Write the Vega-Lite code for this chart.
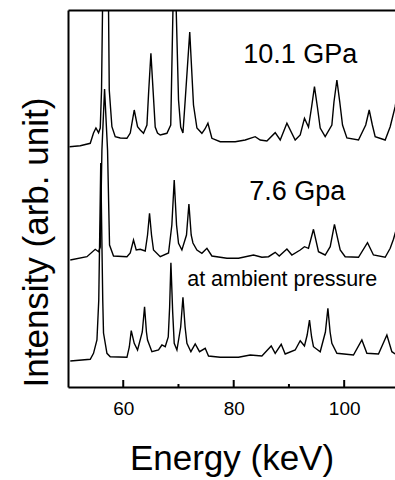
{
  "$schema": "https://vega.github.io/schema/vega-lite/v6.json",
  "width": 327,
  "height": 377,
  "autosize": {"type": "none"},
  "padding": {"left": 68, "top": 10, "right": 0, "bottom": 93},
  "config": {"view": {"stroke": null}, "font": "Liberation Sans"},
  "datasets": {
    "spectra": [
      {"s": "10.1 GPa", "e": 50.28, "v": 240.3},
      {"s": "10.1 GPa", "e": 52.22, "v": 241.3},
      {"s": "10.1 GPa", "e": 54.03, "v": 243.7},
      {"s": "10.1 GPa", "e": 54.62, "v": 254},
      {"s": "10.1 GPa", "e": 55.06, "v": 259},
      {"s": "10.1 GPa", "e": 55.53, "v": 254.3},
      {"s": "10.1 GPa", "e": 55.84, "v": 259},
      {"s": "10.1 GPa", "e": 56.07, "v": 297},
      {"s": "10.1 GPa", "e": 56.25, "v": 377},
      {"s": "10.1 GPa", "e": 56.8, "v": 520},
      {"s": "10.1 GPa", "e": 57.34, "v": 377},
      {"s": "10.1 GPa", "e": 57.47, "v": 297},
      {"s": "10.1 GPa", "e": 57.95, "v": 260.3},
      {"s": "10.1 GPa", "e": 58.55, "v": 250.3},
      {"s": "10.1 GPa", "e": 59.46, "v": 249},
      {"s": "10.1 GPa", "e": 60.67, "v": 248.7},
      {"s": "10.1 GPa", "e": 61.27, "v": 254},
      {"s": "10.1 GPa", "e": 61.99, "v": 277},
      {"s": "10.1 GPa", "e": 62.59, "v": 260.3},
      {"s": "10.1 GPa", "e": 63.08, "v": 257},
      {"s": "10.1 GPa", "e": 63.67, "v": 253.7},
      {"s": "10.1 GPa", "e": 64.29, "v": 262},
      {"s": "10.1 GPa", "e": 64.6, "v": 295},
      {"s": "10.1 GPa", "e": 65.01, "v": 333.7},
      {"s": "10.1 GPa", "e": 65.42, "v": 295},
      {"s": "10.1 GPa", "e": 65.79, "v": 260},
      {"s": "10.1 GPa", "e": 66.2, "v": 254},
      {"s": "10.1 GPa", "e": 66.7, "v": 252},
      {"s": "10.1 GPa", "e": 67.91, "v": 253.7},
      {"s": "10.1 GPa", "e": 68.6, "v": 262},
      {"s": "10.1 GPa", "e": 69.0, "v": 377},
      {"s": "10.1 GPa", "e": 69.32, "v": 440},
      {"s": "10.1 GPa", "e": 69.59, "v": 377},
      {"s": "10.1 GPa", "e": 70.01, "v": 287},
      {"s": "10.1 GPa", "e": 70.4, "v": 260},
      {"s": "10.1 GPa", "e": 70.81, "v": 254},
      {"s": "10.1 GPa", "e": 71.22, "v": 287},
      {"s": "10.1 GPa", "e": 72.04, "v": 355},
      {"s": "10.1 GPa", "e": 72.72, "v": 282},
      {"s": "10.1 GPa", "e": 73.34, "v": 259},
      {"s": "10.1 GPa", "e": 74.24, "v": 253.7},
      {"s": "10.1 GPa", "e": 74.8, "v": 258},
      {"s": "10.1 GPa", "e": 75.33, "v": 263.7},
      {"s": "10.1 GPa", "e": 76.05, "v": 248.7},
      {"s": "10.1 GPa", "e": 77.56, "v": 245.3},
      {"s": "10.1 GPa", "e": 78.46, "v": 245.3},
      {"s": "10.1 GPa", "e": 80.27, "v": 245.3},
      {"s": "10.1 GPa", "e": 82.08, "v": 247},
      {"s": "10.1 GPa", "e": 83.89, "v": 250.3},
      {"s": "10.1 GPa", "e": 84.8, "v": 247},
      {"s": "10.1 GPa", "e": 86.01, "v": 246},
      {"s": "10.1 GPa", "e": 87.51, "v": 254.3},
      {"s": "10.1 GPa", "e": 88.42, "v": 247},
      {"s": "10.1 GPa", "e": 89.63, "v": 263.7},
      {"s": "10.1 GPa", "e": 91.13, "v": 247},
      {"s": "10.1 GPa", "e": 92.04, "v": 252},
      {"s": "10.1 GPa", "e": 92.81, "v": 268.7},
      {"s": "10.1 GPa", "e": 93.54, "v": 260},
      {"s": "10.1 GPa", "e": 94.1, "v": 280},
      {"s": "10.1 GPa", "e": 94.62, "v": 300.3},
      {"s": "10.1 GPa", "e": 95.15, "v": 280},
      {"s": "10.1 GPa", "e": 95.66, "v": 259},
      {"s": "10.1 GPa", "e": 96.56, "v": 250.3},
      {"s": "10.1 GPa", "e": 97.77, "v": 262},
      {"s": "10.1 GPa", "e": 98.15, "v": 285},
      {"s": "10.1 GPa", "e": 98.68, "v": 307},
      {"s": "10.1 GPa", "e": 99.2, "v": 285},
      {"s": "10.1 GPa", "e": 99.7, "v": 262},
      {"s": "10.1 GPa", "e": 100.49, "v": 249},
      {"s": "10.1 GPa", "e": 102.59, "v": 247},
      {"s": "10.1 GPa", "e": 103.9, "v": 262},
      {"s": "10.1 GPa", "e": 104.53, "v": 277},
      {"s": "10.1 GPa", "e": 105.1, "v": 262},
      {"s": "10.1 GPa", "e": 105.61, "v": 250.3},
      {"s": "10.1 GPa", "e": 107.42, "v": 247},
      {"s": "10.1 GPa", "e": 108.33, "v": 260.3},
      {"s": "10.1 GPa", "e": 109.23, "v": 280.3},
      {"s": "10.1 GPa", "e": 109.8, "v": 300},

      {"s": "7.6 Gpa", "e": 50.41, "v": 127},
      {"s": "7.6 Gpa", "e": 53.43, "v": 130.3},
      {"s": "7.6 Gpa", "e": 54.93, "v": 137.7},
      {"s": "7.6 Gpa", "e": 55.53, "v": 135.3},
      {"s": "7.6 Gpa", "e": 55.84, "v": 140},
      {"s": "7.6 Gpa", "e": 56.14, "v": 237},
      {"s": "7.6 Gpa", "e": 56.62, "v": 298},
      {"s": "7.6 Gpa", "e": 57.16, "v": 237},
      {"s": "7.6 Gpa", "e": 57.52, "v": 142},
      {"s": "7.6 Gpa", "e": 58.24, "v": 131},
      {"s": "7.6 Gpa", "e": 60.67, "v": 130.3},
      {"s": "7.6 Gpa", "e": 61.27, "v": 134},
      {"s": "7.6 Gpa", "e": 61.86, "v": 147},
      {"s": "7.6 Gpa", "e": 62.35, "v": 137},
      {"s": "7.6 Gpa", "e": 63.08, "v": 137.7},
      {"s": "7.6 Gpa", "e": 63.98, "v": 136},
      {"s": "7.6 Gpa", "e": 64.4, "v": 152},
      {"s": "7.6 Gpa", "e": 64.76, "v": 173.7},
      {"s": "7.6 Gpa", "e": 65.12, "v": 152},
      {"s": "7.6 Gpa", "e": 65.48, "v": 137},
      {"s": "7.6 Gpa", "e": 66.7, "v": 130.3},
      {"s": "7.6 Gpa", "e": 68.2, "v": 134},
      {"s": "7.6 Gpa", "e": 68.8, "v": 162},
      {"s": "7.6 Gpa", "e": 69.23, "v": 207},
      {"s": "7.6 Gpa", "e": 69.65, "v": 162},
      {"s": "7.6 Gpa", "e": 70.01, "v": 143.7},
      {"s": "7.6 Gpa", "e": 70.62, "v": 137},
      {"s": "7.6 Gpa", "e": 71.45, "v": 152},
      {"s": "7.6 Gpa", "e": 71.89, "v": 183},
      {"s": "7.6 Gpa", "e": 72.3, "v": 152},
      {"s": "7.6 Gpa", "e": 72.62, "v": 144},
      {"s": "7.6 Gpa", "e": 73.34, "v": 137},
      {"s": "7.6 Gpa", "e": 74.24, "v": 133.7},
      {"s": "7.6 Gpa", "e": 75.15, "v": 138.7},
      {"s": "7.6 Gpa", "e": 76.05, "v": 131},
      {"s": "7.6 Gpa", "e": 78.77, "v": 128.7},
      {"s": "7.6 Gpa", "e": 80.87, "v": 128.7},
      {"s": "7.6 Gpa", "e": 83.58, "v": 132},
      {"s": "7.6 Gpa", "e": 85.1, "v": 129.7},
      {"s": "7.6 Gpa", "e": 86.3, "v": 130.3},
      {"s": "7.6 Gpa", "e": 87.51, "v": 134.7},
      {"s": "7.6 Gpa", "e": 88.24, "v": 131},
      {"s": "7.6 Gpa", "e": 89.63, "v": 138},
      {"s": "7.6 Gpa", "e": 90.53, "v": 132},
      {"s": "7.6 Gpa", "e": 92.04, "v": 137},
      {"s": "7.6 Gpa", "e": 92.81, "v": 140.3},
      {"s": "7.6 Gpa", "e": 93.54, "v": 138.7},
      {"s": "7.6 Gpa", "e": 94.44, "v": 157.7},
      {"s": "7.6 Gpa", "e": 95.35, "v": 135.3},
      {"s": "7.6 Gpa", "e": 96.56, "v": 132},
      {"s": "7.6 Gpa", "e": 97.47, "v": 140.3},
      {"s": "7.6 Gpa", "e": 98.24, "v": 162.7},
      {"s": "7.6 Gpa", "e": 99.28, "v": 137},
      {"s": "7.6 Gpa", "e": 100.18, "v": 130.3},
      {"s": "7.6 Gpa", "e": 102.59, "v": 129.7},
      {"s": "7.6 Gpa", "e": 104.22, "v": 144.3},
      {"s": "7.6 Gpa", "e": 105.3, "v": 132},
      {"s": "7.6 Gpa", "e": 107.42, "v": 129.7},
      {"s": "7.6 Gpa", "e": 108.33, "v": 138.7},
      {"s": "7.6 Gpa", "e": 108.92, "v": 147.7},
      {"s": "7.6 Gpa", "e": 109.4, "v": 157},

      {"s": "ambient", "e": 50.41, "v": 26},
      {"s": "ambient", "e": 54.03, "v": 27.7},
      {"s": "ambient", "e": 54.62, "v": 33.7},
      {"s": "ambient", "e": 55.24, "v": 47},
      {"s": "ambient", "e": 55.57, "v": 87},
      {"s": "ambient", "e": 55.93, "v": 224},
      {"s": "ambient", "e": 56.29, "v": 87},
      {"s": "ambient", "e": 56.43, "v": 54},
      {"s": "ambient", "e": 57.05, "v": 33.7},
      {"s": "ambient", "e": 57.65, "v": 30.3},
      {"s": "ambient", "e": 60.67, "v": 29.7},
      {"s": "ambient", "e": 61.1, "v": 40},
      {"s": "ambient", "e": 61.45, "v": 56.3},
      {"s": "ambient", "e": 61.99, "v": 43.7},
      {"s": "ambient", "e": 62.59, "v": 37},
      {"s": "ambient", "e": 63.45, "v": 55},
      {"s": "ambient", "e": 63.86, "v": 80.3},
      {"s": "ambient", "e": 64.2, "v": 55},
      {"s": "ambient", "e": 64.4, "v": 47},
      {"s": "ambient", "e": 65.19, "v": 35.3},
      {"s": "ambient", "e": 66.39, "v": 37},
      {"s": "ambient", "e": 67.0, "v": 42},
      {"s": "ambient", "e": 67.6, "v": 40.3},
      {"s": "ambient", "e": 68.15, "v": 50},
      {"s": "ambient", "e": 68.4, "v": 80},
      {"s": "ambient", "e": 68.63, "v": 124.3},
      {"s": "ambient", "e": 68.95, "v": 75},
      {"s": "ambient", "e": 69.23, "v": 43.7},
      {"s": "ambient", "e": 69.72, "v": 37},
      {"s": "ambient", "e": 70.4, "v": 60},
      {"s": "ambient", "e": 70.81, "v": 89.7},
      {"s": "ambient", "e": 71.2, "v": 60},
      {"s": "ambient", "e": 71.53, "v": 43.7},
      {"s": "ambient", "e": 72.25, "v": 35.3},
      {"s": "ambient", "e": 73.03, "v": 43},
      {"s": "ambient", "e": 73.81, "v": 35.3},
      {"s": "ambient", "e": 74.84, "v": 38.7},
      {"s": "ambient", "e": 75.44, "v": 31},
      {"s": "ambient", "e": 77.56, "v": 29.7},
      {"s": "ambient", "e": 80.87, "v": 29.7},
      {"s": "ambient", "e": 82.99, "v": 32},
      {"s": "ambient", "e": 85.1, "v": 31},
      {"s": "ambient", "e": 86.79, "v": 41},
      {"s": "ambient", "e": 87.51, "v": 33.7},
      {"s": "ambient", "e": 88.6, "v": 42.7},
      {"s": "ambient", "e": 89.32, "v": 33},
      {"s": "ambient", "e": 91.13, "v": 37},
      {"s": "ambient", "e": 92.04, "v": 46.3},
      {"s": "ambient", "e": 92.81, "v": 41},
      {"s": "ambient", "e": 93.3, "v": 52},
      {"s": "ambient", "e": 93.72, "v": 67},
      {"s": "ambient", "e": 94.1, "v": 50},
      {"s": "ambient", "e": 94.44, "v": 40.3},
      {"s": "ambient", "e": 95.66, "v": 35.3},
      {"s": "ambient", "e": 96.6, "v": 55},
      {"s": "ambient", "e": 97.05, "v": 78.7},
      {"s": "ambient", "e": 97.45, "v": 55},
      {"s": "ambient", "e": 97.77, "v": 43.7},
      {"s": "ambient", "e": 98.68, "v": 33.7},
      {"s": "ambient", "e": 101.68, "v": 32},
      {"s": "ambient", "e": 103.2, "v": 47},
      {"s": "ambient", "e": 104.11, "v": 33.7},
      {"s": "ambient", "e": 106.21, "v": 33},
      {"s": "ambient", "e": 107.73, "v": 52},
      {"s": "ambient", "e": 108.63, "v": 35.3},
      {"s": "ambient", "e": 109.23, "v": 33}
    ],
    "labels": [
      {"text": "10.1 GPa", "e": 81.72, "v": 324},
      {"text": "7.6 Gpa", "e": 82.8, "v": 187},
      {"text": "at ambient pressure", "e": 71.58, "v": 101}
    ],
    "ticks": [
      {"e": 60, "kind": "major"},
      {"e": 70, "kind": "minor"},
      {"e": 80, "kind": "major"},
      {"e": 90, "kind": "minor"},
      {"e": 100, "kind": "major"}
    ]
  },
  "layer": [
    {
      "data": {"name": "spectra"},
      "mark": {"type": "line", "color": "black", "strokeWidth": 1.4, "clip": true},
      "encoding": {
        "x": {
          "field": "e", "type": "quantitative",
          "scale": {"domain": [50, 109.2], "nice": false, "zero": false},
          "axis": {
            "orient": "bottom",
            "values": [60, 80, 100],
            "ticks": false,
            "labelFontSize": 19,
            "labelColor": "black",
            "labelPadding": 12,
            "labelFlush": false,
            "domainWidth": 2,
            "domainColor": "black",
            "grid": false,
            "title": "Energy (keV)",
            "titleFontSize": 35,
            "titleFontWeight": "normal",
            "titleColor": "black",
            "titlePadding": 23
          }
        },
        "y": {
          "field": "v", "type": "quantitative",
          "scale": {"domain": [0, 377], "nice": false},
          "axis": {
            "orient": "left",
            "ticks": false,
            "labels": false,
            "grid": false,
            "domainWidth": 2,
            "domainColor": "black",
            "title": "Intensity (arb. unit)",
            "titleFontSize": 35,
            "titleFontWeight": "normal",
            "titleColor": "black",
            "titlePadding": 14,
            "titleAnchor": "start"
          }
        },
        "detail": {"field": "s"}
      }
    },
    {
      "data": {"name": "labels"},
      "transform": [{"filter": "datum.text != 'at ambient pressure'"}],
      "mark": {"type": "text", "align": "left", "baseline": "alphabetic", "fontSize": 27, "color": "black"},
      "encoding": {
        "x": {
          "field": "e", "type": "quantitative",
          "axis": {"orient": "top", "ticks": false, "labels": false, "grid": false, "title": null, "domainWidth": 2, "domainColor": "black"}
        },
        "y": {"field": "v", "type": "quantitative", "title": "Intensity (arb. unit)"},
        "text": {"field": "text"}
      }
    },
    {
      "data": {"name": "labels"},
      "transform": [{"filter": "datum.text == 'at ambient pressure'"}],
      "mark": {"type": "text", "align": "left", "baseline": "alphabetic", "fontSize": 21.5, "color": "black"},
      "encoding": {
        "x": {"field": "e", "type": "quantitative", "axis": null},
        "y": {"field": "v", "type": "quantitative", "title": "Intensity (arb. unit)"},
        "text": {"field": "text"}
      }
    },
    {
      "data": {"name": "ticks"},
      "transform": [{"filter": "datum.kind == 'major'"}],
      "mark": {"type": "rule", "color": "black", "strokeWidth": 2},
      "encoding": {
        "x": {"field": "e", "type": "quantitative", "axis": null},
        "y": {"datum": 0, "type": "quantitative", "title": "Intensity (arb. unit)"},
        "y2": {"datum": 7}
      }
    },
    {
      "data": {"name": "ticks"},
      "transform": [{"filter": "datum.kind == 'minor'"}],
      "mark": {"type": "rule", "color": "black", "strokeWidth": 2},
      "encoding": {
        "x": {"field": "e", "type": "quantitative", "axis": null},
        "y": {"datum": 0, "type": "quantitative", "title": "Intensity (arb. unit)"},
        "y2": {"datum": 3}
      }
    }
  ],
  "resolve": {"axis": {"x": "independent"}}
}
